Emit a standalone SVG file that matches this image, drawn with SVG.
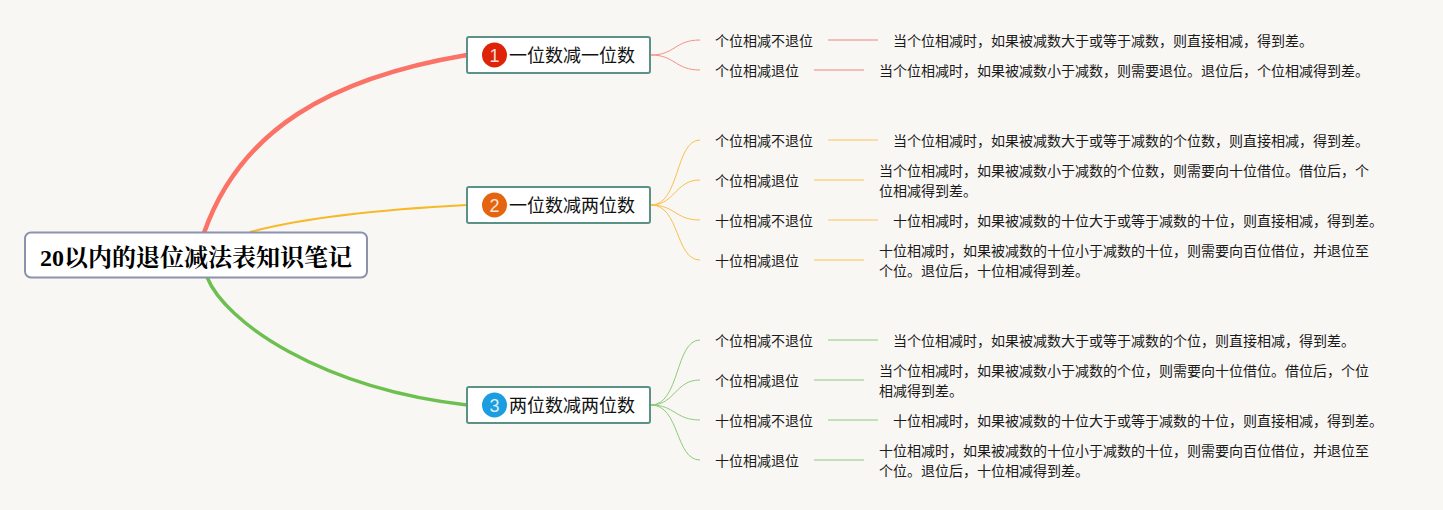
<svg xmlns="http://www.w3.org/2000/svg" width="1443" height="510" viewBox="0 0 1443 510">
<style>
text{font-family:"Noto Sans CJK SC","Liberation Sans",sans-serif;fill:#1a1a1a}
.l{font-size:14px}
.d{font-size:14px}
.m{font-size:18px;fill:#111}
.n{font-size:18px;fill:#fff;font-family:"Liberation Sans",sans-serif;text-anchor:middle;fill-opacity:.85}
.box{fill:#fff;stroke:#5b9186;stroke-width:2}
.c{fill:none;stroke-width:1}
.r{stroke:#f58f86}.y{stroke:#f8c04c}.g{stroke:#8ecb78}
.s{fill:none;stroke-width:1.5}
.sr{stroke:#f4aaa3}.sy{stroke:#f9d58b}.sg{stroke:#b0da9f}
</style>
<rect width="1443" height="510" fill="#f9f7f4"/>
<g id="connectors">
<path d="M204 233C240 130 330 78 467 55" fill="none" stroke="#fb7366" stroke-width="4.500"/>
<path d="M250 232C310 216 390 209 467 205" fill="none" stroke="#f7b928" stroke-width="2"/>
<path d="M207 277C225 322 320 388 467 405" fill="none" stroke="#6dc050" stroke-width="3.500"/>
<path class="c r" d="M651 55C675 55 675 40 700 40M651 55C675 55 675 70 700 70"/>
<path class="c y" d="M651 205C680 205 675 140 700 140M651 205C675 205 675 180 700 180M651 205C675 205 675 220 700 220M651 205C680 205 675 260 700 260"/>
<path class="c g" d="M651 405C680 405 675 340 700 340M651 405C675 405 675 380 700 380M651 405C675 405 675 420 700 420M651 405C680 405 675 460 700 460"/>
<path class="s sr" d="M828 40H878M814 70H864"/>
<path class="s sy" d="M828 140H878M814 180H864M828 220H878M814 260H864"/>
<path class="s sg" d="M828 340H878M814 380H864M828 420H878M814 460H864"/>
</g>
<g id="root"><rect x="25" y="232.500" width="342" height="45" rx="6" fill="#fff" stroke="#8b92ae" stroke-width="2"/>
<text x="40" y="266" style="font-family:'Liberation Serif','Noto Serif CJK SC','Noto Sans CJK SC',serif;font-size:24px;font-weight:700;fill:#000">20以内的退位减法表知识笔记</text></g>
<g id="t1"><rect class="box" x="467" y="37" width="183" height="36" rx="2"/><circle cx="494.500" cy="55" r="12.500" fill="#dd2409"/><text class="n" x="494.500" y="61.500">1</text><text class="m" x="509" y="62">一位数减一位数</text></g>
<g id="t2"><rect class="box" x="467" y="187" width="183" height="36" rx="2"/><circle cx="494.500" cy="205" r="12.500" fill="#e5640f"/><text class="n" x="494.500" y="211.500">2</text><text class="m" x="509" y="212">一位数减两位数</text></g>
<g id="t3"><rect class="box" x="467" y="387" width="183" height="36" rx="2"/><circle cx="494.500" cy="405" r="12.500" fill="#1b9de0"/><text class="n" x="494.500" y="411.500">3</text><text class="m" x="509" y="412">两位数减两位数</text></g>
<g id="a1"><text class="l" x="715" y="46">个位相减不退位</text><text class="d" x="893" y="46">当个位相减时，如果被减数大于或等于减数，则直接相减，得到差。</text></g>
<g id="a2"><text class="l" x="715" y="76">个位相减退位</text><text class="d" x="879" y="76">当个位相减时，如果被减数小于减数，则需要退位。退位后，个位相减得到差。</text></g>
<g id="b1"><text class="l" x="715" y="146">个位相减不退位</text><text class="d" x="893" y="146">当个位相减时，如果被减数大于或等于减数的个位数，则直接相减，得到差。</text></g>
<g id="b2"><text class="l" x="715" y="186">个位相减退位</text><text class="d" x="879" y="176">当个位相减时，如果被减数小于减数的个位数，则需要向十位借位。借位后，个</text><text class="d" x="879" y="196">位相减得到差。</text></g>
<g id="b3"><text class="l" x="715" y="226">十位相减不退位</text><text class="d" x="893" y="226">十位相减时，如果被减数的十位大于或等于减数的十位，则直接相减，得到差。</text></g>
<g id="b4"><text class="l" x="715" y="266">十位相减退位</text><text class="d" x="879" y="256">十位相减时，如果被减数的十位小于减数的十位，则需要向百位借位，并退位至</text><text class="d" x="879" y="276">个位。退位后，十位相减得到差。</text></g>
<g id="c1"><text class="l" x="715" y="346">个位相减不退位</text><text class="d" x="893" y="346">当个位相减时，如果被减数大于或等于减数的个位，则直接相减，得到差。</text></g>
<g id="c2"><text class="l" x="715" y="386">个位相减退位</text><text class="d" x="879" y="376">当个位相减时，如果被减数小于减数的个位，则需要向十位借位。借位后，个位</text><text class="d" x="879" y="396">相减得到差。</text></g>
<g id="c3"><text class="l" x="715" y="426">十位相减不退位</text><text class="d" x="893" y="426">十位相减时，如果被减数的十位大于或等于减数的十位，则直接相减，得到差。</text></g>
<g id="c4"><text class="l" x="715" y="466">十位相减退位</text><text class="d" x="879" y="456">十位相减时，如果被减数的十位小于减数的十位，则需要向百位借位，并退位至</text><text class="d" x="879" y="476">个位。退位后，十位相减得到差。</text></g>
</svg>
